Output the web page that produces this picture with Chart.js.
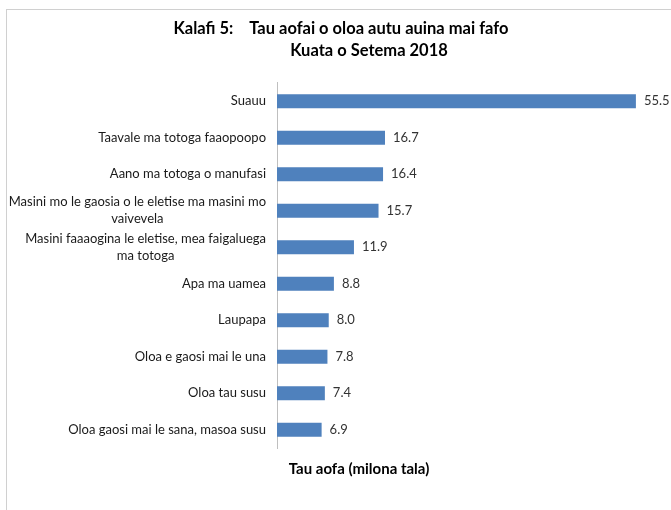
<!DOCTYPE html>
<html>
<head>
<meta charset="utf-8">
<script src="https://cdn.jsdelivr.net/npm/chart.js@4/dist/chart.umd.min.js"></script>
<style>
    html, body { margin: 0; padding: 0; background: #fff; overflow: hidden; }
    #frame {
        position: absolute;
        left: 6px;
        top: 9px;
        width: 704px;
        height: 520px;
        border: 1px solid #d0d0d0;
    }
    #chart { display: block; }
</style>
</head>
<body>
<div id="frame"><canvas id="chart" width="704" height="520"></canvas></div>
<script>
// Donnees du graphique
const categories = [
    ['Suauu'],
    ['Taavale ma totoga faaopoopo'],
    ['Aano ma totoga o manufasi'],
    ['Masini mo le gaosia o le eletise ma masini mo', 'vaivevela'],
    ['Masini faaaogina le eletise, mea faigaluega', 'ma totoga'],
    ['Apa ma uamea'],
    ['Laupapa'],
    ['Oloa e gaosi mai le una'],
    ['Oloa tau susu'],
    ['Oloa gaosi mai le sana, masoa susu']
];
const values = [55.5, 16.7, 16.4, 15.7, 11.9, 8.8, 8.0, 7.8, 7.4, 6.9];
const titleLines = ['Kalafi 5:    Tau aofai o oloa autu auina mai fafo         ', '     Kuata o Setema 2018'];
const axisTitle = 'Tau aofa (milona tala)';
const xMax = 60;

const FONT = 'Lato, "Open Sans", sans-serif';

// Etiquettes de l'axe Y (lignes centrees entre elles, bloc aligne a droite)
const yLabelsPlugin = {
    id: 'yLabels',
    afterDraw(chart) {
        const ctx = chart.ctx;
        const yScale = chart.scales.y;
        const right = chart.chartArea.left - 11;
        const lh = 17;
        ctx.save();
        ctx.font = '13px ' + FONT;
        ctx.fillStyle = '#1a1a1a';
        ctx.textAlign = 'center';
        ctx.textBaseline = 'middle';
        categories.forEach((lines, i) => {
            const y = yScale.getPixelForTick(i);
            const w = Math.max(...lines.map(l => ctx.measureText(l).width));
            const cx = right - w / 2;
            lines.forEach((l, j) => {
                ctx.fillText(l, cx, y + (j - (lines.length - 1) / 2) * lh);
            });
        });
        ctx.restore();
    }
};

// Valeurs a droite des barres
const valueLabelsPlugin = {
    id: 'valueLabels',
    afterDatasetsDraw(chart) {
        const ctx = chart.ctx;
        const meta = chart.getDatasetMeta(0);
        ctx.save();
        ctx.font = '13px ' + FONT;
        ctx.fillStyle = '#333333';
        ctx.textAlign = 'left';
        ctx.textBaseline = 'middle';
        meta.data.forEach((bar, i) => {
            ctx.fillText(values[i].toFixed(1), bar.x + 8, bar.y);
        });
        ctx.restore();
    }
};

new Chart(document.getElementById('chart'), {
    type: 'bar',
    data: {
        labels: categories,
        datasets: [{
            data: values,
            backgroundColor: '#4f81bd',
            borderWidth: 0,
            barPercentage: 0.38,
            categoryPercentage: 1
        }]
    },
    options: {
        indexAxis: 'y',
        responsive: false,
        animation: false,
        layout: { padding: { left: 46, right: 46 } },
        plugins: {
            legend: { display: false },
            tooltip: { enabled: false },
            title: {
                display: true,
                text: titleLines,
                color: '#000',
                font: { family: FONT, size: 16.5, weight: 'bold', lineHeight: 1.333 },
                padding: { top: 8, bottom: 21 }
            },
            subtitle: {
                display: true,
                position: 'bottom',
                text: axisTitle,
                color: '#000',
                font: { family: FONT, size: 15, weight: 'bold', lineHeight: 1.2 },
                padding: { top: 12, bottom: 52 }
            }
        },
        scales: {
            x: {
                display: false,
                min: 0,
                max: xMax
            },
            y: {
                grid: { display: false, drawTicks: false },
                border: { display: true, color: '#bfbfbf', width: 1 },
                ticks: { color: 'transparent', padding: 11 },
                afterFit(scale) {
                    scale.width = 224;
                }
            }
        }
    },
    plugins: [yLabelsPlugin, valueLabelsPlugin]
});
</script>
</body>
</html>
